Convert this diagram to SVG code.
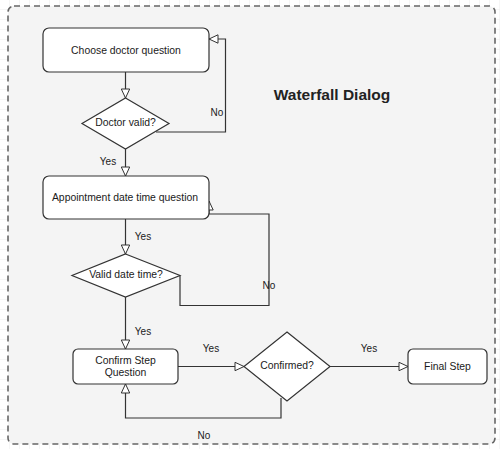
<svg xmlns="http://www.w3.org/2000/svg" width="500" height="449" viewBox="0 0 500 449">
<defs>
<pattern id="grid" width="10" height="10" patternUnits="userSpaceOnUse">
<path d="M10 0 V10 M0 10 H10" fill="none" stroke="#ececec" stroke-width="1"/>
</pattern>
<marker id="arr" markerWidth="12" markerHeight="12" refX="10" refY="5" orient="auto" markerUnits="userSpaceOnUse">
<path d="M1,0.8 L10,5 L1,9.2 Z" fill="#ffffff" stroke="#333333" stroke-width="1"/>
</marker>
<style>
.node{fill:#ffffff;stroke:#333333;stroke-width:1.2}
.t{font-family:"Liberation Sans",Arial,sans-serif;font-size:10.4px;fill:#1a1a1a;text-anchor:middle;dominant-baseline:central}
.lbl{font-family:"Liberation Sans",Arial,sans-serif;font-size:10px;fill:#1a1a1a;text-anchor:middle;dominant-baseline:central}
.edge{fill:none;stroke:#333333;stroke-width:1.2}
</style>
</defs>
<rect width="500" height="449" fill="#ffffff"/>
<rect width="500" height="449" fill="url(#grid)"/>
<g id="container">
<rect x="8" y="6" width="487" height="438" rx="6" fill="#f4f4f4" stroke="#666666" stroke-width="1.6" stroke-dasharray="6,4"/>
<text x="332" y="94" style="font-family:'Liberation Sans',Arial,sans-serif;font-size:15.5px;font-weight:bold;fill:#222222" text-anchor="middle" dominant-baseline="central">Waterfall Dialog</text>
</g>
<g id="connectors">
<path class="edge" d="M125.5,72 V98" marker-end="url(#arr)"/>
<path class="edge" d="M156,132 H225.5 V39 H209" marker-end="url(#arr)"/>
<text class="lbl" x="217" y="112">No</text>
<path class="edge" d="M125.5,149 V176" marker-end="url(#arr)"/>
<text class="lbl" x="108" y="161">Yes</text>
<path class="edge" d="M125.5,219 V254" marker-end="url(#arr)"/>
<text class="lbl" x="143" y="236">Yes</text>
<path class="edge" d="M180,276 V305.5 H269 V214 H209 V201" marker-end="url(#arr)"/>
<text class="lbl" x="269" y="285">No</text>
<path class="edge" d="M125.5,297 V349" marker-end="url(#arr)"/>
<text class="lbl" x="143" y="331">Yes</text>
<path class="edge" d="M178,366.5 H244" marker-end="url(#arr)"/>
<text class="lbl" x="211" y="348">Yes</text>
<path class="edge" d="M330,366.5 H408" marker-end="url(#arr)"/>
<text class="lbl" x="369" y="348">Yes</text>
<path class="edge" d="M281,398 V418 H125.5 V384" marker-end="url(#arr)"/>
<text class="lbl" x="204" y="435">No</text>
</g>
<g id="choose-doctor">
<rect class="node" x="43" y="28" width="166" height="44" rx="6"/>
<text class="t" x="126" y="50">Choose doctor question</text>
</g>
<g id="doctor-valid">
<polygon class="node" points="125.5,98 169,123.5 125.5,149 82,123.5"/>
<text class="t" x="125.5" y="122">Doctor valid?</text>
</g>
<g id="appointment">
<rect class="node" x="43" y="176" width="166" height="43" rx="6"/>
<text class="t" x="125" y="197.5">Appointment date time question</text>
</g>
<g id="valid-date">
<polygon class="node" points="125.5,254 180,275.5 125.5,297 72,275.5"/>
<text class="t" x="126" y="274">Valid date time?</text>
</g>
<g id="confirm-step">
<rect class="node" x="73" y="349" width="105" height="35" rx="5"/>
<text class="t" x="125.5" y="360.5">Confirm Step</text>
<text class="t" x="125.5" y="372.5">Question</text>
</g>
<g id="confirmed">
<polygon class="node" points="287,332 330,366.5 287,401 244,366.5"/>
<text class="t" x="287" y="365">Confirmed?</text>
</g>
<g id="final-step">
<rect class="node" x="408" y="349" width="79" height="35" rx="5"/>
<text class="t" x="447.5" y="366.5">Final Step</text>
</g>
</svg>
